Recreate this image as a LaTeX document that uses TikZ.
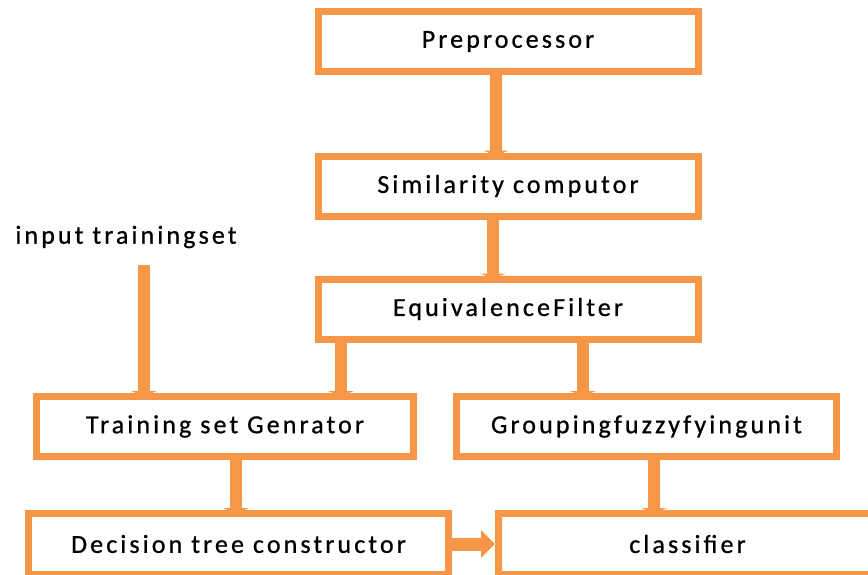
\documentclass[tikz,border=0pt]{standalone}
\usepackage{fontspec}
\setmainfont{Carlito}[LetterSpace=12, FakeBold=0.8]
\usetikzlibrary{arrows.meta}
\definecolor{boxorange}{HTML}{F79646}
\tikzset{
  unit/.style={draw=boxorange, line width=7pt, fill=white, inner sep=0pt,
    minimum width=380pt, minimum height=60pt, font=\fontsize{26}{30}\selectfont},
  conn/.style={draw=boxorange, line width=12pt,
    -{Triangle[width=26pt,length=5pt]}, shorten >=-3pt},
  sideconn/.style={draw=boxorange, line width=13pt,
    -{Triangle[width=27pt,length=14pt]}},
  label/.style={inner sep=0pt, font=\fontsize{26}{30}\selectfont}
}
\begin{document}
\begin{tikzpicture}[x=1pt, y=-1pt]
  \useasboundingbox (0,0) rectangle (868,574);
  % processing chain
  \node[unit] (pre)   at (508,41.5)  {Preprocessor};
  \node[unit] (sim)   at (508,186)   {Similarity computor};
  \node[unit] (eq)    at (508,309)   {EquivalenceFilter};
  \node[unit, minimum width=377pt] (train) at (225,426.5) {Training set Genrator};
  \node[unit] (group) at (646.5,426.5) {Groupingfuzzyfyingunit};
  \node[unit, minimum width=420pt, minimum height=61pt] (dec) at (238.5,544) {Decision tree constructor};
  \node[unit, minimum width=378pt, minimum height=61pt] (cls) at (687.5,544) {classifier};
  % external input
  \node[label] (inp) at (126,237) {input trainingset};
  \coordinate (inpend) at (144,265);
  % connectors
  \draw[conn] ([xshift=-12pt]pre.south) -- ([xshift=-12pt]sim.north);
  \draw[conn] ([xshift=-15pt]sim.south) -- ([xshift=-15pt]eq.north);
  \draw[conn] ([xshift=-167pt]eq.south) -- ([xshift=-167pt]eq.south |- train.north);
  \draw[conn] ([xshift=75pt]eq.south) -- ([xshift=75pt]eq.south |- group.north);
  \draw[conn] (inpend) -- (inpend |- train.north);
  \draw[conn] ([xshift=11pt]train.south) -- ([xshift=11pt]train.south |- dec.north);
  \draw[conn] ([xshift=7.5pt]group.south) -- ([xshift=7.5pt]group.south |- cls.north);
  \draw[sideconn] (dec.east) -- (cls.west);
\end{tikzpicture}
\end{document}
